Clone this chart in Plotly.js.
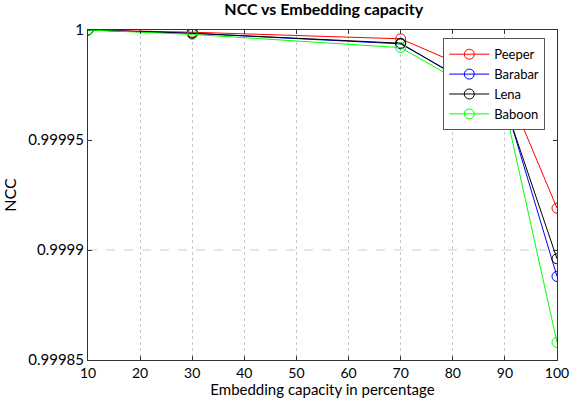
<!DOCTYPE html>
<html><head><meta charset="utf-8">
<script src="https://cdn.plot.ly/plotly-3.0.1.min.js"></script>
<style>body{margin:0;background:#fff}#c{width:573px;height:398px}</style>
</head><body><div id="c"></div>
<script>
const capacity = [10, 30, 70, 90, 100];
const peeper  = [1.0, 0.9999990, 0.9999960, 0.9999755, 0.999919];
const barabar = [1.0, 0.9999985, 0.9999937, 0.9999670, 0.999888];
const lena    = [1.0, 0.9999985, 0.9999940, 0.9999660, 0.999896];
const baboon  = [1.0, 0.9999980, 0.9999920, 0.9999650, 0.999858];
const names = ["Peeper", "Barabar", "Lena", "Baboon"];
const colors = ["#ff0000", "#0000ff", "#000000", "#00ff00"];
const series = [peeper, barabar, lena, baboon];
const yTicks = [0.99985, 0.9999, 0.99995, 1];
const yTickText = ["0.99985", "0.9999", "0.99995", "1"];
const xTicks = [10, 20, 30, 40, 50, 60, 70, 80, 90, 100];
const yGridAt = 0.9999;

const traces = series.map((s, i) => ({
  x: capacity, y: s, name: names[i], type: 'scatter', mode: 'lines+markers',
  line: {color: colors[i], width: 1},
  marker: {symbol: 'circle-open', size: 10, color: colors[i], line: {width: 1, color: colors[i]}}
}));

const font = {family: 'Lato, "Open Sans", sans-serif', color: '#000'};
Plotly.newPlot('c', traces, {
  width: 573, height: 398,
  margin: {l: 88, r: 16, t: 30, b: 38},
  paper_bgcolor: '#fff', plot_bgcolor: '#fff',
  font: Object.assign({size: 15}, font),
  title: {text: '<b>NCC vs Embedding capacity</b>', x: 0.565, xanchor: 'center', y: 0.99, yanchor: 'top',
          font: Object.assign({size: 16}, font)},
  xaxis: {range: [10, 100], tickvals: xTicks, ticks: 'inside', ticklen: 4, tickcolor: '#333',
          showline: true, linecolor: '#333', linewidth: 1, mirror: 'ticks',
          showgrid: true, gridcolor: '#c8c8c8', griddash: 'dot', gridwidth: 1, zeroline: false,
          tickfont: Object.assign({size: 14}, font),
          title: {text: 'Embedding capacity in percentage', standoff: 4, font: Object.assign({size: 15}, font)}},
  yaxis: {range: [0.99985, 1.0], tickvals: yTicks, ticktext: yTickText, ticks: 'inside', ticklen: 4, tickcolor: '#333',
          showline: true, linecolor: '#333', linewidth: 1, mirror: 'ticks',
          showgrid: false, zeroline: false,
          tickfont: Object.assign({size: 15}, font),
          title: {text: 'NCC', standoff: 10, font: Object.assign({size: 16}, font)}},
  shapes: [{type: 'line', xref: 'paper', x0: 0, x1: 1, yref: 'y', y0: yGridAt, y1: yGridAt,
            line: {color: '#cccccc', width: 1, dash: 'dash'}, layer: 'below'}],
  legend: {x: 0.975, xanchor: 'right', y: 0.975, yanchor: 'top', bgcolor: '#fff',
           bordercolor: '#555', borderwidth: 1, font: Object.assign({size: 13}, font),
           tracegroupgap: 0, itemwidth: 40},
  showlegend: true
}, {displayModeBar: false, staticPlot: true});
</script></body></html>
